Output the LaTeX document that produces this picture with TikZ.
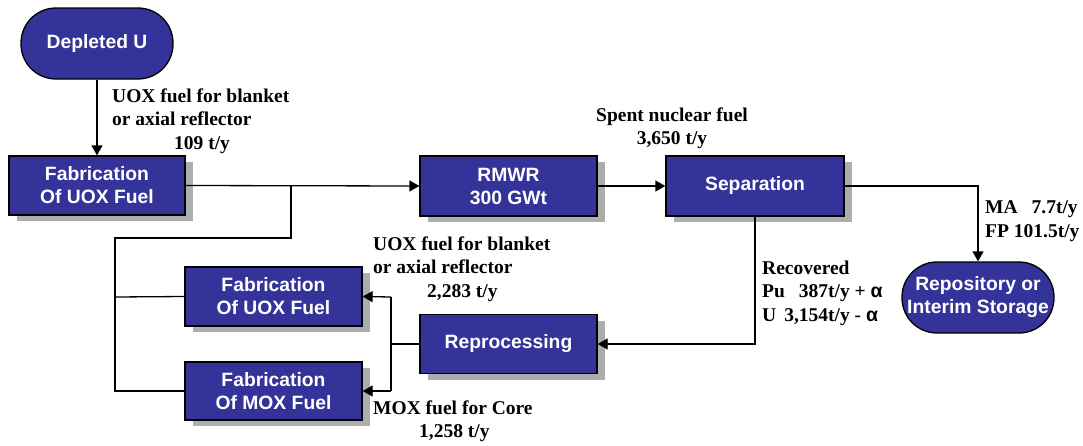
\documentclass[tikz,border=0pt]{standalone}
\usepackage{fontspec}
\setmainfont{Liberation Serif}
\newfontfamily\boxfont{Liberation Sans}
\usetikzlibrary{arrows.meta,shadows}
\definecolor{boxblue}{HTML}{333399}
\begin{document}
\begin{tikzpicture}[x=1pt,y=-1pt,
 box/.style={draw=black, line width=1.3pt, fill=boxblue, text=white,
   font=\boxfont\bfseries\fontsize{19.3}{23}\selectfont, align=center, inner sep=0pt,
   drop shadow={shadow xshift=8pt, shadow yshift=-6pt, fill=black!32, opacity=1}},
 term/.style={draw=black, line width=1.3pt, fill=boxblue, text=white,
   font=\boxfont\bfseries\fontsize{19.3}{23}\selectfont, align=center, inner sep=0pt,
   rounded corners=35pt},
 lab/.style={font=\bfseries\fontsize{19.5}{23.5}\selectfont, align=left, inner sep=0pt},
 conn/.style={line width=1.3pt},
 arr/.style={conn, -{Triangle[length=10pt,width=11pt]}}]
\useasboundingbox (0,0) rectangle (1083,445);

% nodes
\node[term, minimum width=152pt, minimum height=71pt] (dep) at (97,43.5) {Depleted U};
\node[box, minimum width=176pt, minimum height=59pt] (fab1) at (97,185.5) {Fabrication\\Of UOX Fuel};
\node[box, minimum width=177pt, minimum height=60pt] (rmwr) at (508.5,186) {RMWR\\300 GWt};
\node[box, minimum width=178pt, minimum height=60pt] (sep) at (755,186) {Separation};
\node[term, minimum width=152pt, minimum height=71pt] (repo) at (978,297.5) {Repository or\\Interim Storage};
\node[box, minimum width=177pt, minimum height=59pt] (fab2) at (273.5,296.5) {Fabrication\\Of UOX Fuel};
\node[box, minimum width=177pt, minimum height=58pt] (fabm) at (273.5,391) {Fabrication\\Of MOX Fuel};
\node[box, minimum width=177pt, minimum height=59pt] (rep) at (508.5,344) {Reprocessing};

% helper coordinates
\coordinate (j1) at (291,186);
\coordinate (j2) at (291,238);
\coordinate (j3) at (115,238);
\coordinate (j4) at (115,297);
\coordinate (j5) at (115,391);
\coordinate (r1) at (391,344);
\coordinate (r2) at (391,297);
\coordinate (r3) at (391,391);
\coordinate (s1) at (755,344);

% connectors
\draw[arr] (dep.south) -- (fab1.north);
\draw[arr] (fab1.east) -- (rmwr.west);
\draw[conn] (j1) -- (j2) -- (j3) -- (j5) -- (fabm.west);
\draw[conn] (j4) -- (fab2.west);
\draw[arr] (rmwr.east) -- (sep.west);
\draw[arr] (sep.east) -| (repo.north);
\draw[arr] (sep.south) -- (s1) -- (rep.east);
\draw[conn] (rep.west) -- (r1);
\draw[conn] (r2) -- (r3);
\draw[arr] (r2) -- (fab2.east);
\draw[arr] (r3) -- (fabm.east);

% labels
\node[lab, anchor=west] (l1) at (112,121) {UOX fuel for blanket\\or axial reflector\\\hspace*{62pt}109 t/y};
\node[lab, align=center] (l2) at (672,128) {Spent nuclear fuel\\3,650 t/y};
\node[lab, anchor=west] (l3) at (985,221) {MA\hspace{14pt}7.7t/y\\FP 101.5t/y};
\node[lab, anchor=west] (l4) at (762,293) {Recovered\\Pu\hspace{14pt}387t/y + {\boxfont\bfseries α}\\U\hspace{8pt}3,154t/y - {\boxfont\bfseries α}};
\node[lab, anchor=west] (l5) at (373,269) {UOX fuel for blanket\\or axial reflector\\\hspace*{54pt}2,283 t/y};
\node[lab, anchor=west] (l6) at (373,421) {MOX fuel for Core\\\hspace*{46pt}1,258 t/y};
\end{tikzpicture}
\end{document}
